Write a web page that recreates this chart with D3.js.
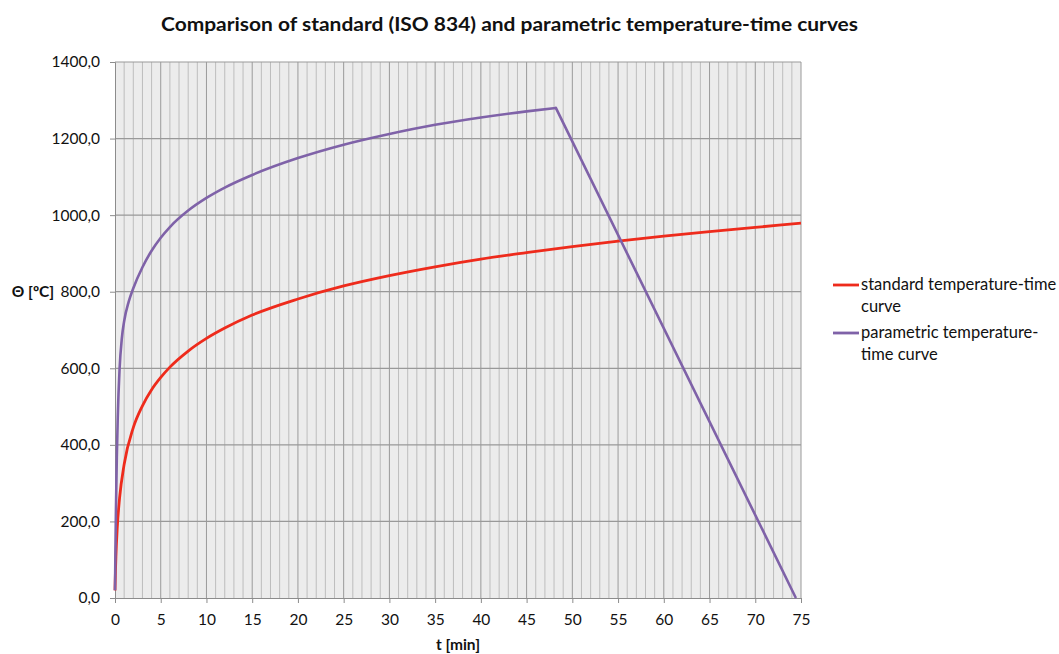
<!DOCTYPE html>
<html>
<head>
<meta charset="utf-8">
<script src="https://cdn.jsdelivr.net/npm/d3@7"></script>
<style>
  body { margin: 0; background: #fff; }
  text { font-family: Lato, "Open Sans", sans-serif; fill: #111; }
</style>
</head>
<body>
<div id="chart"></div>
<script>
var width = 1059;
var height = 654;

// standard ISO 834 curve
var stdTime  = [0, 0.05, 0.1, 0.25, 0.5, 1, 2, 3, 4, 5, 6, 8, 10, 12, 15, 20, 25, 30, 35, 40, 45, 50, 55, 60, 65, 70, 75];
var stdTheta = [20, 70, 108, 185, 261, 349, 445, 502, 544, 576, 603, 645, 678, 705, 739, 781, 815, 842, 865, 885, 902, 918, 932, 945, 957, 968, 979];

// parametric curve, heating phase
var parTime  = [0, 0.05, 0.1, 0.2, 0.3, 0.5, 0.75, 1, 1.5, 2, 3, 4, 5, 6, 8, 10, 12, 15, 20, 25, 30, 35, 40, 45, 48.2];
var parTheta = [20, 131, 225, 369, 471, 598, 679, 723, 774, 809, 864, 907, 941, 969, 1012, 1045, 1072, 1105, 1149, 1184, 1212, 1236, 1255, 1271, 1280];

// parametric curve, cooling phase
var coolTime  = [48.2, 74.4];
var coolTheta = [1280, 2];

var xTicks = [0, 5, 10, 15, 20, 25, 30, 35, 40, 45, 50, 55, 60, 65, 70, 75];
var yTicks = [0, 200, 400, 600, 800, 1000, 1200, 1400];

var seriesNames = ["standard temperature-time curve", "parametric temperature-time curve"];
var legendLines = [["standard temperature-time", "curve"], ["parametric temperature-", "time curve"]];
var colors = ["#ee2b1c", "#7f62a8"];

var plot = { left: 115, right: 801, top: 62, bottom: 598 };

var x = d3.scaleLinear().domain([0, 75]).range([plot.left, plot.right]);
var y = d3.scaleLinear().domain([0, 1400]).range([plot.bottom, plot.top]);

var locale = d3.formatLocale({ decimal: ",", thousands: "", grouping: [3], currency: ["", ""] });
var fmt = locale.format(".1f");

var svg = d3.select("#chart").append("svg")
    .attr("width", width)
    .attr("height", height);

svg.append("rect")
    .attr("width", width)
    .attr("height", height)
    .attr("fill", "#fff");

// plot background
svg.append("rect")
    .attr("x", plot.left)
    .attr("y", plot.top)
    .attr("width", plot.right - plot.left)
    .attr("height", plot.bottom - plot.top)
    .attr("fill", "#ececec");

// vertical minor gridlines, every minute
var minor = d3.range(1, 75).filter(function(d) { return d % 5 != 0; });
svg.append("g").selectAll("line")
    .data(minor)
    .enter().append("line")
    .attr("x1", function(d) { return x(d); })
    .attr("x2", function(d) { return x(d); })
    .attr("y1", plot.top)
    .attr("y2", plot.bottom)
    .attr("stroke", "#bdbdbd")
    .attr("stroke-width", 1);

// major vertical gridlines
svg.append("g").selectAll("line")
    .data(xTicks.slice(1))
    .enter().append("line")
    .attr("x1", function(d) { return x(d); })
    .attr("x2", function(d) { return x(d); })
    .attr("y1", plot.top)
    .attr("y2", plot.bottom)
    .attr("stroke", "#9a9a9a")
    .attr("stroke-width", 1);

// horizontal gridlines
svg.append("g").selectAll("line")
    .data(yTicks.slice(1))
    .enter().append("line")
    .attr("x1", plot.left)
    .attr("x2", plot.right)
    .attr("y1", function(d) { return y(d); })
    .attr("y2", function(d) { return y(d); })
    .attr("stroke", "#999")
    .attr("stroke-width", 1.2);

// axes
var xAxis = d3.axisBottom(x).tickValues(xTicks).tickSize(5).tickPadding(11);
var yAxis = d3.axisLeft(y).tickValues(yTicks).tickSize(5).tickPadding(10).tickFormat(fmt);

var gx = svg.append("g")
    .attr("transform", "translate(0," + plot.bottom + ")")
    .call(xAxis);
var gy = svg.append("g")
    .attr("transform", "translate(" + plot.left + ",0)")
    .call(yAxis);

[gx, gy].forEach(function(g) {
    g.select(".domain").attr("stroke", "#8c8c8c");
    g.selectAll(".tick line").attr("stroke", "#8c8c8c");
    g.selectAll(".tick text")
        .attr("font-size", 15.5)
        .attr("font-family", "Lato, 'Open Sans', sans-serif")
        .attr("fill", "#111");
});

// curves
var smooth = d3.line()
    .x(function(d) { return x(d[0]); })
    .y(function(d) { return y(d[1]); })
    .curve(d3.curveMonotoneX);
var straight = d3.line()
    .x(function(d) { return x(d[0]); })
    .y(function(d) { return y(d[1]); });

svg.append("path")
    .datum(stdTime.map(function(t, i) { return [t, stdTheta[i]]; }))
    .attr("d", smooth)
    .attr("fill", "none")
    .attr("stroke", colors[0])
    .attr("stroke-width", 2.8);

svg.append("path")
    .datum(parTime.map(function(t, i) { return [t, parTheta[i]]; }))
    .attr("d", smooth)
    .attr("fill", "none")
    .attr("stroke", colors[1])
    .attr("stroke-width", 2.6)
    .attr("stroke-linejoin", "round");

svg.append("path")
    .datum(coolTime.map(function(t, i) { return [t, coolTheta[i]]; }))
    .attr("d", straight)
    .attr("fill", "none")
    .attr("stroke", colors[1])
    .attr("stroke-width", 2.6)
    .attr("stroke-linecap", "round");

// title
svg.append("text")
    .attr("x", 161)
    .attr("y", 31)
    .attr("font-size", 19)
    .attr("font-weight", "bold")
    .attr("textLength", 697)
    .attr("lengthAdjust", "spacingAndGlyphs")
    .text("Comparison of standard (ISO 834) and parametric temperature-time curves");

// axis titles
svg.append("text")
    .attr("x", (plot.left + plot.right) / 2)
    .attr("y", 650)
    .attr("text-anchor", "middle")
    .attr("font-size", 15.5)
    .attr("font-weight", "bold")
    .text("t [min]");

svg.append("text")
    .attr("x", 33)
    .attr("y", 297)
    .attr("text-anchor", "middle")
    .attr("font-size", 15.5)
    .attr("font-weight", "bold")
    .text("Θ [ºC]");

// legend
var legend = svg.append("g").selectAll("g")
    .data(seriesNames)
    .enter().append("g")
    .attr("transform", function(d, i) { return "translate(833," + (285 + i * 48) + ")"; });

legend.append("line")
    .attr("x1", 0)
    .attr("x2", 26)
    .attr("y1", 0)
    .attr("y2", 0)
    .attr("stroke", function(d, i) { return colors[i]; })
    .attr("stroke-width", 2.8);

legend.append("text")
    .attr("x", 28)
    .attr("y", 5)
    .attr("font-size", 16.5)
    .selectAll("tspan")
    .data(function(d, i) { return legendLines[i]; })
    .enter().append("tspan")
    .attr("x", 28)
    .attr("dy", function(d, j) { return j ? 22 : 0; })
    .text(function(d) { return d; });
</script>
</body>
</html>
